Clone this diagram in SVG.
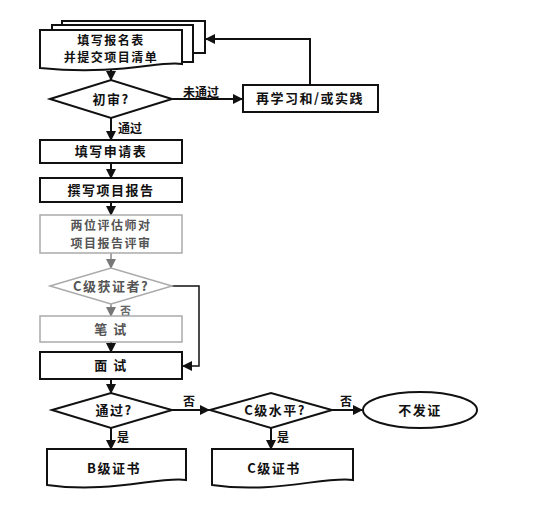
<svg xmlns="http://www.w3.org/2000/svg" width="536" height="517" viewBox="0 0 536 517">
<style>
.s{fill:#fff;stroke:#111;stroke-width:2}
.f{fill:#fff;stroke:#aaa;stroke-width:1.5}
.t{font-family:"Noto Sans CJK SC","Noto Sans",sans-serif;font-size:13px;font-weight:bold;fill:#111;text-anchor:middle;letter-spacing:1.5px}
.t2{font-size:12px}
.tf{fill:#555}
.l{font-family:"Noto Sans CJK SC","Noto Sans",sans-serif;font-size:12px;font-weight:bold;fill:#111}
.c{fill:none;stroke:#111;stroke-width:2}
.cf{fill:none;stroke:#888;stroke-width:1.5}
</style>
<defs>
<marker id="a" markerWidth="10" markerHeight="10" refX="9" refY="5" orient="auto" markerUnits="userSpaceOnUse">
<path d="M0,0 L10,5 L0,10 Z" fill="#111"/>
</marker>
<marker id="ag" markerWidth="10" markerHeight="10" refX="9" refY="5" orient="auto" markerUnits="userSpaceOnUse">
<path d="M0,0 L10,5 L0,10 Z" fill="#777"/>
</marker>
</defs>
<rect width="536" height="517" fill="#fff"/>
<g id="connectors">
<path class="c" d="M111,69 V80" marker-end="url(#a)"/>
<path class="c" d="M172,99 H242" marker-end="url(#a)"/>
<path class="c" d="M310,85 V39 H206" marker-end="url(#a)"/>
<path class="c" d="M111,118 V140" marker-end="url(#a)"/>
<path class="c" d="M111,163 V178" marker-end="url(#a)"/>
<path class="c" d="M111,202 V215" marker-end="url(#a)"/>
<path class="cf" d="M111,253 V268" marker-end="url(#ag)"/>
<path class="cf" d="M111,304 V316" marker-end="url(#ag)"/>
<path class="c" d="M172,286 H199 V366 H183" marker-end="url(#a)" style="stroke-width:1.5"/>
<path class="c" d="M111,342 V352" marker-end="url(#a)"/>
<path class="c" d="M111,379 V393" marker-end="url(#a)"/>
<path class="c" d="M172,410 H209" marker-end="url(#a)"/>
<path class="c" d="M332,410 H362" marker-end="url(#a)"/>
<path class="c" d="M111,428 V449" marker-end="url(#a)"/>
<path class="c" d="M271,428 V449" marker-end="url(#a)"/>
<text class="l" x="183" y="97">未通过</text>
<text class="l" x="118" y="133">通过</text>
<text class="l" x="120" y="315" style="fill:#666;font-size:11px">否</text>
<text class="l" x="183" y="406">否</text>
<text class="l" x="340" y="406">否</text>
<text class="l" x="117" y="442">是</text>
<text class="l" x="277" y="442">是</text>
</g>
<g id="n1">
<rect class="s" x="62" y="21" width="143" height="32"/>
<rect class="s" x="52" y="25" width="141" height="37"/>
<path class="s" d="M40,30 H182 V64 C160,60 120,76 40,68 Z"/>
<text class="t t2" x="111" y="45">填写报名表</text>
<text class="t t2" x="111" y="62">并提交项目清单</text>
</g>
<g id="n2">
<path class="s" d="M50,99 L111,80 L172,99 L111,118 Z"/>
<text class="t" x="111" y="104">初审?</text>
</g>
<g id="n3">
<rect class="s" x="243" y="85" width="135" height="27"/>
<text class="t" x="310" y="103">再学习和/或实践</text>
</g>
<g id="n4">
<rect class="s" x="40" y="140" width="142" height="23"/>
<text class="t" x="111" y="156">填写申请表</text>
</g>
<g id="n5">
<rect class="s" x="40" y="178" width="142" height="24"/>
<text class="t" x="111" y="195">撰写项目报告</text>
</g>
<g id="n6">
<rect class="f" x="40" y="215" width="142" height="38"/>
<text class="t t2 tf" x="111" y="230">两位评估师对</text>
<text class="t t2 tf" x="111" y="248">项目报告评审</text>
</g>
<g id="n7">
<path class="f" d="M50,286 L111,268 L172,286 L111,304 Z"/>
<text class="t tf" x="111" y="291">C级获证者?</text>
</g>
<g id="n8">
<rect class="f" x="40" y="316" width="142" height="26"/>
<text class="t tf" x="111" y="334">笔  试</text>
</g>
<g id="n9">
<rect class="s" x="40" y="352" width="142" height="27"/>
<text class="t" x="111" y="370">面  试</text>
</g>
<g id="n10">
<path class="s" d="M52,410 L111,393 L172,410 L111,428 Z"/>
<text class="t" x="114" y="415">通过?</text>
</g>
<g id="n11">
<path class="s" d="M210,410 L271,393 L332,410 L271,428 Z"/>
<text class="t" x="275" y="415">C级水平?</text>
</g>
<g id="n12">
<ellipse class="s" cx="420" cy="410" rx="57" ry="18"/>
<text class="t" x="420" y="415">不发证</text>
</g>
<g id="n13">
<path class="s" d="M47,449 H186 V480 C160,476 110,494 47,485 Z"/>
<text class="t" x="114" y="473">B级证书</text>
</g>
<g id="n14">
<path class="s" d="M212,449 H353 V480 C325,476 275,494 212,485 Z"/>
<text class="t" x="274" y="473">C级证书</text>
</g>
</svg>
